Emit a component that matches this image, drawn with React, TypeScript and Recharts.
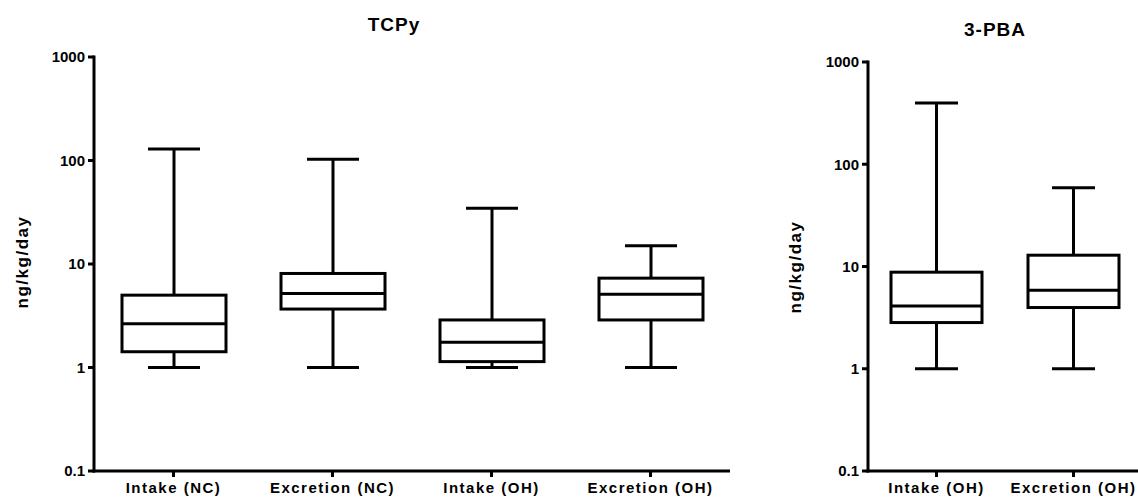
import { ComposedChart, Bar, XAxis, YAxis } from 'recharts'

// TCPy panel
const tcpyGroups = ['Intake (NC)', 'Excretion (NC)', 'Intake (OH)', 'Excretion (OH)']
const tcpyMin = [1, 1, 1, 1]
const tcpyQ1 = [1.42, 3.67, 1.14, 2.88]
const tcpyMedian = [2.65, 5.2, 1.75, 5.1]
const tcpyQ3 = [5.0, 8.1, 2.88, 7.3]
const tcpyMax = [129, 103, 34.5, 15.0]

// 3-PBA panel
const pbaGroups = ['Intake (OH)', 'Excretion (OH)']
const pbaMin = [1, 1]
const pbaQ1 = [2.83, 3.97]
const pbaMedian = [4.1, 5.86]
const pbaQ3 = [8.8, 12.9]
const pbaMax = [398, 59]

const yTicks = [0.1, 1, 10, 100, 1000]

const FONT = '"Liberation Sans", Arial, sans-serif'

interface Row {
  name: string
  whisker: [number, number]
  box: [number, number]
  median: [number, number]
}

function buildRows(groups: string[], mins: number[], q1s: number[], meds: number[], q3s: number[], maxs: number[]): Row[] {
  return groups.map((name, i) => ({
    name,
    whisker: [mins[i], maxs[i]],
    box: [q1s[i], q3s[i]],
    median: [meds[i], meds[i]],
  }))
}

const tcpyRows = buildRows(tcpyGroups, tcpyMin, tcpyQ1, tcpyMedian, tcpyQ3, tcpyMax)
const pbaRows = buildRows(pbaGroups, pbaMin, pbaQ1, pbaMedian, pbaQ3, pbaMax)

const Whisker = (props: any) => {
  const { x, y, width, height } = props
  const top = Math.min(y, y + height)
  const bottom = Math.max(y, y + height)
  const cx = x + width / 2
  return (
    <g stroke="#000" strokeWidth={3} fill="none">
      <line x1={cx} x2={cx} y1={top} y2={bottom} />
      <line x1={x} x2={x + width} y1={top} y2={top} />
      <line x1={x} x2={x + width} y1={bottom} y2={bottom} />
    </g>
  )
}

const Box = (props: any) => {
  const { x, y, width, height } = props
  const top = Math.min(y, y + height)
  return <rect x={x} y={top} width={width} height={Math.abs(height)} fill="#fff" stroke="#000" strokeWidth={3} />
}

const Median = (props: any) => {
  const { x, y, width } = props
  return <line x1={x} x2={x + width} y1={y} y2={y} stroke="#000" strokeWidth={3} />
}

interface PanelProps {
  rows: Row[]
  width: number
  top: number
  axisWidth: number
  boxSize: number
  capSize: number
  title: string
  titleX: number
  titleY: number
  labelX: number
  labelY: number
}

function BoxPanel({ rows, width, top, axisWidth, boxSize, capSize, title, titleX, titleY, labelX, labelY }: PanelProps) {
  const axisStyle = { stroke: '#000', strokeWidth: 3, strokeLinecap: 'square' as const }
  return (
    <ComposedChart width={width} height={500} data={rows} margin={{ top, right: 0, bottom: 4, left: 0 }}>
      <XAxis
        xAxisId="main"
        dataKey="name"
        height={25}
        axisLine={axisStyle}
        tickLine={{ stroke: '#000', strokeWidth: 3 }}
        tickSize={6}
        tickMargin={5}
        tick={{ fill: '#000', fontSize: 15, fontWeight: 700, fontFamily: FONT, letterSpacing: 1.5 }}
        interval={0}
      />
      <XAxis xAxisId="w" dataKey="name" hide height={0} />
      <XAxis xAxisId="m" dataKey="name" hide height={0} />
      <YAxis
        scale="log"
        domain={[0.1, 1000]}
        ticks={yTicks}
        tickFormatter={(v: number) => String(v)}
        width={axisWidth}
        axisLine={axisStyle}
        tickLine={{ stroke: '#000', strokeWidth: 3 }}
        tickSize={6}
        tickMargin={3}
        tick={{ fill: '#000', fontSize: 15, fontWeight: 700, fontFamily: FONT }}
        interval={0}
      />
      <Bar xAxisId="w" dataKey="whisker" barSize={capSize} shape={<Whisker />} isAnimationActive={false} />
      <Bar xAxisId="main" dataKey="box" barSize={boxSize} shape={<Box />} isAnimationActive={false} />
      <Bar xAxisId="m" dataKey="median" barSize={boxSize} shape={<Median />} isAnimationActive={false} />
      <text x={titleX} y={titleY} textAnchor="middle" fontSize={19} fontWeight={700} fontFamily={FONT} letterSpacing={1} fill="#000">
        {title}
      </text>
      <text
        transform={`translate(${labelX},${labelY}) rotate(-90)`}
        textAnchor="middle"
        dominantBaseline="central"
        fontSize={17}
        fontWeight={700}
        fontFamily={FONT}
        letterSpacing={1.5}
        fill="#000"
      >
        ng/kg/day
      </text>
    </ComposedChart>
  )
}

export default function App() {
  return (
    <div style={{ position: 'absolute', left: 0, top: 0, width: 1138, height: 500, overflow: 'hidden', background: '#fff' }}>
      <div style={{ position: 'absolute', left: 0, top: 0 }}>
        <BoxPanel
          rows={tcpyRows}
          width={730}
          top={57}
          axisWidth={94}
          boxSize={104}
          capSize={52}
          title="TCPy"
          titleX={394}
          titleY={31}
          labelX={22}
          labelY={262}
        />
      </div>
      <div style={{ position: 'absolute', left: 760, top: 0 }}>
        <BoxPanel
          rows={pbaRows}
          width={382}
          top={62}
          axisWidth={108}
          boxSize={91}
          capSize={43}
          title="3-PBA"
          titleX={235}
          titleY={36}
          labelX={35}
          labelY={267}
        />
      </div>
    </div>
  )
}
